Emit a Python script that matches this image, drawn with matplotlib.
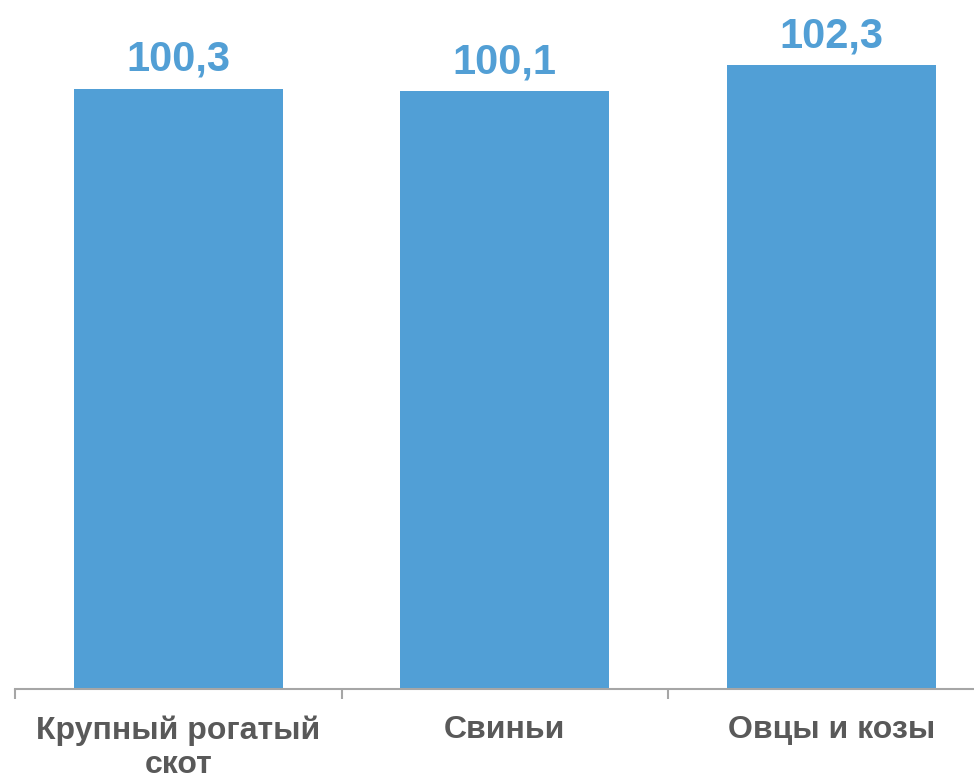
import matplotlib
matplotlib.use("Agg")
import matplotlib.pyplot as plt

categories = ["Крупный рогатый\nскот", "Свиньи", "Овцы и козы"]
values = [100.3, 100.1, 102.3]
value_labels = ["100,3", "100,1", "102,3"]

plt.rcParams['font.family'] = ['Liberation Sans', 'DejaVu Sans']

bar_color = '#519FD6'
label_color = '#529FD5'
text_gray = '#595959'
axis_gray = '#A6A6A6'

fig = plt.figure(figsize=(9.74, 7.78), dpi=100)
# axes runs slightly past the right edge, as in the original crop
ax = fig.add_axes([15 / 974, 89 / 778, 979.5 / 974, 689 / 778])

x = list(range(len(categories)))
ax.bar(x, values, width=0.64, color=bar_color, zorder=2)

ax.set_xlim(-0.5, len(categories) - 0.5)
ax.set_ylim(50, 50 + 689 / 11.93)

for xi, v, lab in zip(x, values, value_labels):
    ax.annotate(lab, (xi, v), xytext=(0, 13), textcoords='offset points',
                ha='center', va='baseline', fontsize=30, fontweight='bold',
                color=label_color)

for side in ['top', 'right', 'left']:
    ax.spines[side].set_visible(False)
ax.spines['bottom'].set_color(axis_gray)
ax.spines['bottom'].set_linewidth(1.5)

ax.set_yticks([])
ax.set_xticks(x)
ax.set_xticklabels(categories, fontsize=23, fontweight='bold', color=text_gray,
                   linespacing=1.2)
ax.tick_params(axis='x', which='major', length=0, pad=19)
ax.set_xticks([i - 0.5 for i in range(len(categories) + 1)], minor=True)
ax.tick_params(axis='x', which='minor', length=7, width=1.5, color=axis_gray)

fig.savefig('out.png', dpi=100)
